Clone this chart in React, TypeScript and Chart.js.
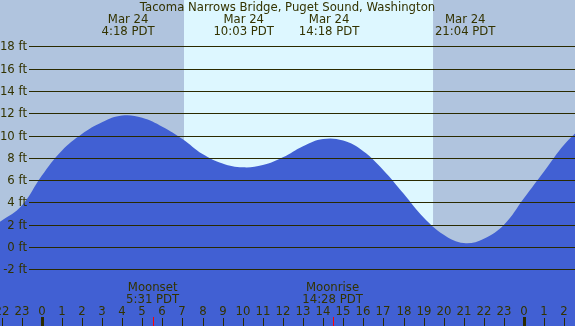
import React, { useEffect, useRef } from "react";
import { Chart, registerables } from "chart.js";

Chart.register(...registerables);

const titleText = "Tacoma Narrows Bridge, Puget Sound, Washington";
const tideHours = [-3, -2, -1, 0, 1, 2, 3, 4, 5, 6, 7, 8, 9, 10, 11, 12, 13, 14, 15, 16, 17, 18, 19, 20, 21, 22, 23, 24, 25, 26, 27];
const tideFeet = [1.2, 2.35, 3.7, 6.4, 8.65, 10.15, 11.2, 11.8, 11.6, 10.8, 9.7, 8.35, 7.5, 7.15, 7.35, 8.05, 9.05, 9.7, 9.55, 8.6, 6.9, 4.8, 2.65, 1.1, 0.35, 0.75, 2.0, 4.4, 6.8, 9.2, 11.0];
const extremeHours = [4.3, 10.05, 14.3, 21.07];
const extremeDates = ["Mar 24", "Mar 24", "Mar 24", "Mar 24"];
const extremeTimes = ["4:18 PDT", "10:03 PDT", "14:18 PDT", "21:04 PDT"];
const sunriseHour = 7.08;
const sunsetHour = 19.47;
const moonNames = ["Moonset", "Moonrise"];
const moonHours = [5.52, 14.47];
const moonTimes = ["5:31 PDT", "14:28 PDT"];
const yTicks = [-2, 0, 2, 4, 6, 8, 10, 12, 14, 16, 18];
const xTickHours = [-2, -1, 0, 1, 2, 3, 4, 5, 6, 7, 8, 9, 10, 11, 12, 13, 14, 15, 16, 17, 18, 19, 20, 21, 22, 23, 24, 25, 26];

const W = 575;
const H = 326;
const FONT = '11.7px "DejaVu Sans"';
const TEXT = "#333300";

export default function App() {
  const ref = useRef<HTMLCanvasElement | null>(null);
  useEffect(() => {
    if (!ref.current) return;
    const decor = {
      id: "decor",
      beforeDraw(chart: any) {
        const { ctx, chartArea: a, scales } = chart;
        const x = scales.x;
        ctx.save();
        ctx.fillStyle = "#b0c4de";
        ctx.fillRect(a.left, a.top, a.right - a.left, a.bottom - a.top);
        const x1 = x.getPixelForValue(sunriseHour);
        const x2 = x.getPixelForValue(sunsetHour);
        ctx.fillStyle = "#ddf7ff";
        ctx.fillRect(x1, a.top, x2 - x1, a.bottom - a.top);
        ctx.restore();
      },
      afterDatasetsDraw(chart: any) {
        const { ctx, chartArea: a, scales } = chart;
        const x = scales.x;
        const y = scales.y;
        ctx.save();
        ctx.font = FONT;
        ctx.strokeStyle = "#2a2a00";
        ctx.lineWidth = 1;
        ctx.textAlign = "right";
        ctx.textBaseline = "middle";
        for (const v of yTicks) {
          const py = Math.round(y.getPixelForValue(v)) + 0.5;
          ctx.beginPath();
          ctx.moveTo(29, py);
          ctx.lineTo(a.right, py);
          ctx.stroke();
          ctx.fillStyle = TEXT;
          ctx.fillText(v + " ft", 27, py);
        }
        ctx.textAlign = "center";
        ctx.fillStyle = TEXT;
        ctx.fillText(titleText, (a.left + a.right) / 2, 8);
        extremeHours.forEach((h, i) => {
          const px = x.getPixelForValue(h);
          ctx.fillText(extremeDates[i], px, 20);
          ctx.fillText(extremeTimes[i], px, 32);
        });
        moonHours.forEach((h, i) => {
          const px = x.getPixelForValue(h);
          ctx.fillStyle = TEXT;
          ctx.fillText(moonNames[i], px, 288);
          ctx.fillText(moonTimes[i], px, 300);
          ctx.strokeStyle = "#ff0000";
          ctx.beginPath();
          ctx.moveTo(Math.round(px) + 0.5, 317);
          ctx.lineTo(Math.round(px) + 0.5, a.bottom);
          ctx.stroke();
        });
        xTickHours.forEach((h) => {
          const px = Math.round(x.getPixelForValue(h));
          const lab = String(((h % 24) + 24) % 24);
          ctx.fillStyle = TEXT;
          ctx.fillText(lab, px, 312);
          if (lab === "0") {
            ctx.fillStyle = "#2a2a00";
            ctx.fillRect(px - 1, 317, 3, a.bottom - 317);
          } else {
            ctx.strokeStyle = "#2a2a00";
            ctx.beginPath();
            ctx.moveTo(px + 0.5, 318);
            ctx.lineTo(px + 0.5, a.bottom);
            ctx.stroke();
          }
        });
        ctx.restore();
      },
    };
    const chart = new Chart(ref.current, {
      type: "line",
      data: {
        datasets: [
          {
            data: tideHours.map((h, i) => ({ x: h, y: tideFeet[i] })),
            borderWidth: 0,
            borderColor: "rgba(0,0,0,0)",
            backgroundColor: "#4160d3",
            pointRadius: 0,
            fill: "start",
            tension: 0.4,
          },
        ],
      },
      options: {
        animation: false,
        responsive: false,
        layout: { padding: 0 },
        plugins: { legend: { display: false }, tooltip: { enabled: false }, title: { display: false } },
        scales: {
          x: { type: "linear", min: -41.7 / 20.1, max: (W - 41.7) / 20.1, display: false },
          y: { type: "linear", min: -79 / 11.14, max: 247 / 11.14, display: false },
        },
      },
      plugins: [decor],
    });
    return () => chart.destroy();
  }, []);
  return (
    <div style={{ position: "fixed", left: 0, top: 0, width: W, height: H }}>
      <canvas ref={ref} width={W} height={H} style={{ width: W, height: H }} />
    </div>
  );
}
